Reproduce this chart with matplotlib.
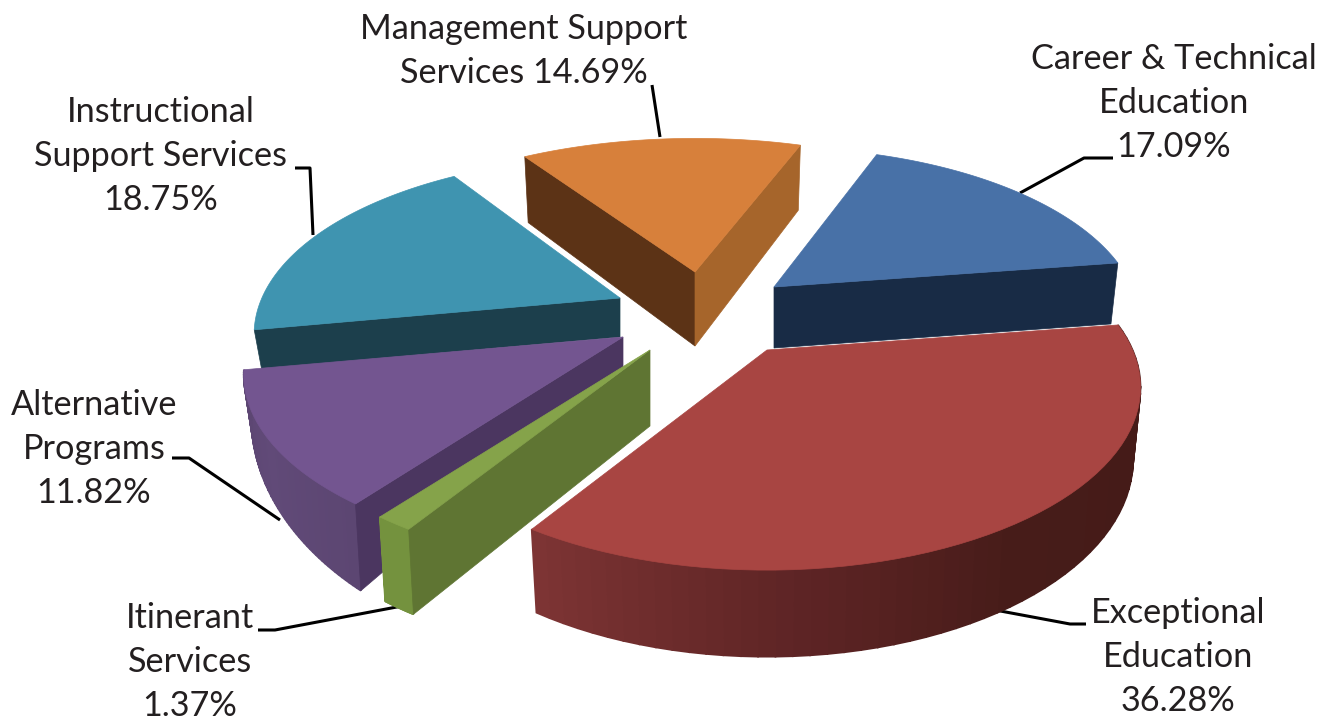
import numpy as np
import matplotlib
matplotlib.use('Agg')
import matplotlib.pyplot as plt
from matplotlib.patches import Polygon

plt.rcParams['font.family'] = ['Lato', 'DejaVu Sans']

# Budget shares, clockwise from the top right
categories = ['Career & Technical\nEducation', 'Exceptional\nEducation', 'Itinerant\nServices',
              'Alternative\nPrograms', 'Instructional\nSupport Services', 'Management Support\nServices']
shares = [17.09, 36.28, 1.37, 11.82, 18.75, 14.69]

top_colors = ['#4871a7', '#a84542', '#85a34a', '#735590', '#3f94b0', '#d7803b']
start_cut_colors = [None, None, '#5f7533', '#4b3660', '#1c3f4c', '#5c3316']
end_cut_colors = ['#182b45', None, None, None, None, '#a6652b']
rim_ramps = [None, ['#7d3434', '#602526', '#471c19', '#451b18', '#451b18'], ['#74923e', '#74923e'],
             ['#5c4672', '#614a78', '#5c4672'], None, None]

# Where each slice's point ends up once pulled out of the pie
tip_x = [774, 767, 650, 623, 620, 695]
tip_y = [287, 350, 350, 337, 298, 272]
radius_scale = [0.955, 0.975, 1.0, 0.99, 0.955, 0.98]
height_scale = [0.96, 1.0, 1.0, 1.0, 0.97, 0.92]
# Slab height at the slice tip and its growth towards the viewer
depth_at_tip = [61, 69, 76, 30, 39, 74]
depth_growth = [0.0, 0.08, 0.05, 0.34, 0.0, 0.07]

START_ANGLE = 70.0
RX, RY, PERSPECTIVE = 375.0, 175.0, 0.205
BOTTOM_SHRINK = 0.02

label_pos = [(1174, 103), (1178, 657), (190, 662), (94, 449), (161, 156), (524, 51)]
leader_lines = [
    [(1113, 158), (1084, 158), (1020, 193)],
    [(1086, 624), (1070, 624), (995, 610)],
    [(258, 630), (275, 630), (402, 606)],
    [(172, 458), (189, 458), (280, 520)],
    [(295, 168), (310, 168), (313, 235)],
    [(652, 85), (660, 137)],
]


def rim_point(theta, tx, ty, sx, sy):
    """Screen position of the pie edge at angle theta for a slice with its tip at (tx, ty)"""
    c, s = np.cos(theta), np.sin(theta)
    w = 1 + PERSPECTIVE * s
    return tx + sx * RX * c / w, ty - sy * RY * s / w


def drop(x, y, tx, ty, depth, growth):
    """Bottom of the slab under a top-face point"""
    return tx + (x - tx) * (1 - BOTTOM_SHRINK), y + depth + growth * (y - ty)


def ramp_color(ramp, frac):
    rgb = np.array([matplotlib.colors.to_rgb(c) for c in ramp])
    pos = np.linspace(0, 1, len(ramp))
    return [np.interp(frac, pos, rgb[:, i]) for i in range(3)]


fig = plt.figure(figsize=(13.26, 7.21), dpi=100)
ax = fig.add_axes([0, 0, 1, 1])
ax.set_xlim(0, 1326)
ax.set_ylim(721, 0)
ax.axis('off')

# Slice angles come straight from the shares
edges = START_ANGLE - np.cumsum([0] + shares) * 3.6


def quad(points, color, z, lw=0.5):
    ax.add_patch(Polygon(points, closed=True, facecolor=color, edgecolor=color,
                         linewidth=lw, zorder=z))


# Leaders go in first so the slices cover their ends
for line in leader_lines:
    xs, ys = zip(*line)
    ax.plot(xs, ys, color='black', lw=2.2, solid_capstyle='butt', zorder=1)

draw_order = [5, 4, 0, 3, 1, 2]
for z, i in enumerate(draw_order):
    t0, t1 = np.radians(edges[i]), np.radians(edges[i + 1])
    tx, ty = tip_x[i], tip_y[i]
    d, g = depth_at_tip[i], depth_growth[i]
    thetas = np.linspace(t0, t1, 60)
    arc = [rim_point(t, tx, ty, radius_scale[i], height_scale[i]) for t in thetas]
    base = 10 + z * 10

    # Outer wall, split into strips for the shading
    if rim_ramps[i] is not None:
        for k in range(len(arc) - 1):
            a, b = arc[k], arc[k + 1]
            quad([a, b, drop(*b, tx, ty, d, g), drop(*a, tx, ty, d, g)],
                 ramp_color(rim_ramps[i], 1 - k / (len(arc) - 2)), base + 1, lw=1.2)

    # Flat cut faces
    for cut_color, p in ((start_cut_colors[i], arc[0]), (end_cut_colors[i], arc[-1])):
        if cut_color is not None:
            quad([(tx, ty), p, drop(*p, tx, ty, d, g), (tx, ty + d)], cut_color, base + 2)

    quad([(tx, ty)] + arc, top_colors[i], base + 3)

for name, share, (x, y) in zip(categories, shares, label_pos):
    if name.startswith('Management'):
        text = f'{name} {share:.2f}%'
    else:
        text = f'{name}\n{share:.2f}%'
    ax.text(x, y, text, ha='center', va='center', multialignment='center',
            fontsize=24.7, color='#231f20', linespacing=1.46, zorder=210)

plt.savefig('out.png', dpi=100)
